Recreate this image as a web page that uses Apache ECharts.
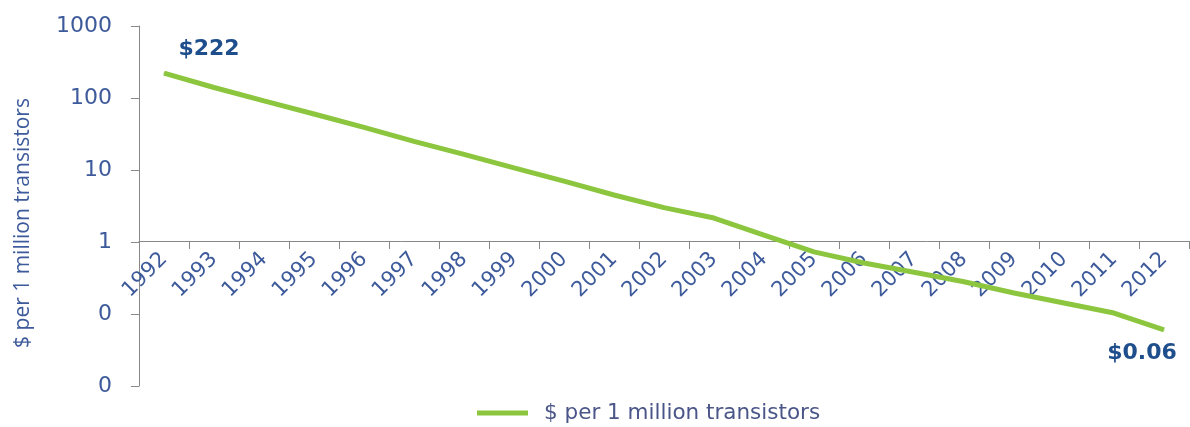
<!DOCTYPE html>
<html>
<head>
<meta charset="utf-8">
<script src="https://cdn.jsdelivr.net/npm/echarts@6/dist/echarts.min.js"></script>
<style>
html,body{margin:0;padding:0;background:#fff;}
#chart{width:1190px;height:427px;}
</style>
</head>
<body>
<div id="chart"></div>
<script>
const years = ['1992','1993','1994','1995','1996','1997','1998','1999','2000','2001','2002','2003','2004','2005','2006','2007','2008','2009','2010','2011','2012'];
const costPerMillion = [222, 140, 91, 60, 39, 25, 16.5, 10.7, 7, 4.5, 3.0, 2.15, 1.25, 0.73, 0.51, 0.38, 0.28, 0.196, 0.142, 0.103, 0.06];
const endLabels = {0: '$222', 20: '$0.06'};
const seriesName = '$ per 1 million transistors';

const labelColor = '#3d5a9b';
const wideFont = '"DejaVu Sans", "Open Sans", sans-serif';
const nameFont = '"Open Sans", "Noto Sans", sans-serif';

const chart = echarts.init(document.getElementById('chart'));
const data = costPerMillion.map((v, i) => {
  if (i === 0) {
    return {value: v, label: {show: true, formatter: endLabels[0], position: 'top', offset: [45, -7]}};
  }
  if (i === costPerMillion.length - 1) {
    return {value: v, label: {show: true, formatter: endLabels[20], position: 'bottom', offset: [-22, 7]}};
  }
  return v;
});

chart.setOption({
  animation: false,
  backgroundColor: '#fff',
  grid: {left: 139, right: 1, top: 26, bottom: 41},
  legend: {
    data: [seriesName],
    left: 472, top: 397,
    icon: 'rect', itemWidth: 51, itemHeight: 5,
    textStyle: {color: '#4a5588', fontSize: 21.5, fontFamily: wideFont, padding: [0, 0, 0, 11]}
  },
  xAxis: {
    type: 'category',
    data: years,
    boundaryGap: true,
    offset: -145,
    axisLine: {show: true, lineStyle: {color: '#888', width: 1}},
    axisTick: {show: true, length: 8, interval: 0, lineStyle: {color: '#888'}},
    axisLabel: {interval: 0, rotate: 45, margin: 15, color: labelColor, fontSize: 21, fontFamily: wideFont},
    splitLine: {show: false}
  },
  yAxis: {
    type: 'log',
    logBase: 10,
    min: 0.01,
    max: 1000,
    name: seriesName,
    nameLocation: 'middle',
    nameRotate: 90,
    nameGap: 105,
    nameTextStyle: {color: labelColor, fontSize: 21, fontFamily: nameFont, padding: [0, 34, 0, 0]},
    axisLine: {show: true, lineStyle: {color: '#888', width: 1}},
    axisTick: {show: true, length: 8, lineStyle: {color: '#888'}},
    minorTick: {show: false},
    splitLine: {show: false},
    axisLabel: {
      margin: 27, color: labelColor, fontSize: 22, fontFamily: wideFont, padding: [0, 0, 10, 0],
      formatter: v => (v >= 1 ? String(Math.round(v)) : '0')
    }
  },
  series: [{
    name: seriesName,
    type: 'line',
    data: data,
    showSymbol: true,
    symbol: 'circle',
    symbolSize: 1,
    itemStyle: {color: '#8cc63f'},
    lineStyle: {color: '#8cc63f', width: 5},
    label: {show: false, color: '#1f4e8c', fontSize: 22, fontWeight: 'bold', fontFamily: wideFont},
    emphasis: {disabled: true}
  }]
});
</script>
</body>
</html>
